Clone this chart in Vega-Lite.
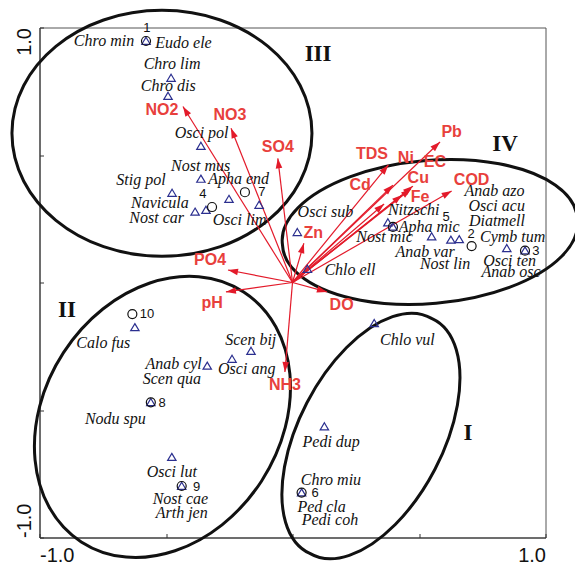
{
  "$schema": "https://vega.github.io/schema/vega-lite/v6.json",
  "width": 506,
  "height": 510,
  "autosize": {"type": "none"},
  "padding": {"left": 39.5, "top": 27.5, "right": 29.5, "bottom": 27.5},
  "background": "white",
  "config": {
    "view": {"stroke": "#555", "strokeWidth": 1},
    "axis": {"grid": false, "domainColor": "#333", "tickColor": "#333", "labelFont": "Liberation Sans", "labelFontSize": 20, "labelColor": "#111", "tickSize": -4, "labelOverlap": false, "labelBound": false}
  },
  "datasets": {
    "species": [
      {"x": -0.579, "y": 0.947}, {"x": -0.480, "y": 0.802}, {"x": -0.492, "y": 0.731}, {"x": -0.362, "y": 0.535},
      {"x": -0.362, "y": 0.406}, {"x": -0.476, "y": 0.351}, {"x": -0.385, "y": 0.277}, {"x": -0.342, "y": 0.284},
      {"x": -0.251, "y": 0.327}, {"x": -0.132, "y": 0.304}, {"x": 0.019, "y": 0.197}, {"x": 0.059, "y": 0.053},
      {"x": 0.377, "y": 0.235}, {"x": 0.397, "y": 0.218}, {"x": 0.550, "y": 0.180}, {"x": 0.626, "y": 0.167},
      {"x": 0.659, "y": 0.169}, {"x": 0.847, "y": 0.134}, {"x": 0.919, "y": 0.125}, {"x": -0.623, "y": -0.176},
      {"x": -0.164, "y": -0.269}, {"x": -0.239, "y": -0.300}, {"x": -0.337, "y": -0.327}, {"x": -0.560, "y": -0.470},
      {"x": -0.477, "y": -0.685}, {"x": -0.438, "y": -0.798}, {"x": 0.323, "y": -0.160}, {"x": 0.126, "y": -0.565},
      {"x": 0.036, "y": -0.824}
    ],
    "samples": [
      {"id": "1", "x": -0.579, "y": 0.947}, {"id": "2", "x": 0.708, "y": 0.143}, {"id": "3", "x": 0.919, "y": 0.125},
      {"id": "4", "x": -0.318, "y": 0.296}, {"id": "5", "x": 0.397, "y": 0.218}, {"id": "6", "x": 0.036, "y": -0.824},
      {"id": "7", "x": -0.188, "y": 0.354}, {"id": "8", "x": -0.560, "y": -0.470}, {"id": "9", "x": -0.438, "y": -0.798},
      {"id": "10", "x": -0.633, "y": -0.124}
    ],
    "sampleLabels": [
      {"t": "1", "x": -0.576, "y": 1.0}, {"t": "2", "x": 0.706, "y": 0.189}, {"t": "3", "x": 0.962, "y": 0.124},
      {"t": "4", "x": -0.354, "y": 0.347}, {"t": "5", "x": 0.607, "y": 0.258}, {"t": "6", "x": 0.089, "y": -0.827},
      {"t": "7", "x": -0.121, "y": 0.355}, {"t": "8", "x": -0.515, "y": -0.474}, {"t": "9", "x": -0.379, "y": -0.801},
      {"t": "10", "x": -0.575, "y": -0.124}
    ],
    "speciesLabels": [
      {"t": "Chro min", "x": -0.745, "y": 0.947}, {"t": "Eudo ele", "x": -0.431, "y": 0.939},
      {"t": "Chro lim", "x": -0.476, "y": 0.857}, {"t": "Chro dis", "x": -0.491, "y": 0.771},
      {"t": "Osci pol", "x": -0.359, "y": 0.585}, {"t": "Nost mus", "x": -0.363, "y": 0.458},
      {"t": "Apha end", "x": -0.213, "y": 0.406}, {"t": "Stig pol", "x": -0.599, "y": 0.402},
      {"t": "Navicula", "x": -0.524, "y": 0.313}, {"t": "Nost car", "x": -0.537, "y": 0.254},
      {"t": "Osci lim", "x": -0.209, "y": 0.245}, {"t": "Osci sub", "x": 0.130, "y": 0.275},
      {"t": "Chlo ell", "x": 0.227, "y": 0.049}, {"t": "Nitzschi", "x": 0.479, "y": 0.284},
      {"t": "Apha mic", "x": 0.540, "y": 0.219}, {"t": "Nost mic", "x": 0.364, "y": 0.180},
      {"t": "Anab var", "x": 0.524, "y": 0.118}, {"t": "Nost lin", "x": 0.603, "y": 0.073},
      {"t": "Anab azo", "x": 0.798, "y": 0.360}, {"t": "Osci acu", "x": 0.807, "y": 0.300},
      {"t": "Diatmell", "x": 0.808, "y": 0.242}, {"t": "Cymb tum", "x": 0.870, "y": 0.180},
      {"t": "Osci ten", "x": 0.858, "y": 0.085}, {"t": "Anab osc", "x": 0.864, "y": 0.042},
      {"t": "Calo fus", "x": -0.748, "y": -0.238}, {"t": "Scen bij", "x": -0.165, "y": -0.225},
      {"t": "Anab cyl", "x": -0.470, "y": -0.320}, {"t": "Osci ang", "x": -0.181, "y": -0.340},
      {"t": "Scen qua", "x": -0.477, "y": -0.378}, {"t": "Nodu spu", "x": -0.700, "y": -0.535},
      {"t": "Osci lut", "x": -0.477, "y": -0.742}, {"t": "Nost cae", "x": -0.443, "y": -0.850},
      {"t": "Arth jen", "x": -0.438, "y": -0.905}, {"t": "Chlo vul", "x": 0.454, "y": -0.225},
      {"t": "Pedi dup", "x": 0.153, "y": -0.627}, {"t": "Chro miu", "x": 0.152, "y": -0.775},
      {"t": "Ped cla", "x": 0.115, "y": -0.882}, {"t": "Pedi coh", "x": 0.148, "y": -0.931}
    ],
    "env": [
      {"v": "NO2", "x": -0.433, "y": 0.690, "lx": -0.516, "ly": 0.676},
      {"v": "NO3", "x": -0.243, "y": 0.605, "lx": -0.247, "ly": 0.657},
      {"v": "SO4", "x": -0.058, "y": 0.487, "lx": -0.058, "ly": 0.530},
      {"v": "TDS", "x": 0.379, "y": 0.461, "lx": 0.314, "ly": 0.504},
      {"v": "Cd", "x": 0.362, "y": 0.308, "lx": 0.267, "ly": 0.382},
      {"v": "Ni", "x": 0.397, "y": 0.382, "lx": 0.448, "ly": 0.490},
      {"v": "EC", "x": 0.476, "y": 0.378, "lx": 0.563, "ly": 0.472},
      {"v": "Cu", "x": 0.468, "y": 0.367, "lx": 0.497, "ly": 0.411},
      {"v": "Fe", "x": 0.433, "y": 0.343, "lx": 0.504, "ly": 0.336},
      {"v": "COD", "x": 0.629, "y": 0.359, "lx": 0.708, "ly": 0.402},
      {"v": "Pb", "x": 0.583, "y": 0.551, "lx": 0.629, "ly": 0.591},
      {"v": "Zn", "x": 0.045, "y": 0.154, "lx": 0.082, "ly": 0.193},
      {"v": "PO4", "x": -0.255, "y": 0.049, "lx": -0.326, "ly": 0.088},
      {"v": "pH", "x": -0.263, "y": -0.037, "lx": -0.318, "ly": -0.082},
      {"v": "DO", "x": 0.136, "y": -0.037, "lx": 0.194, "ly": -0.088},
      {"v": "NH3", "x": -0.030, "y": -0.351, "lx": -0.030, "ly": -0.402}
    ],
    "groups": [
      {"t": "I", "x": 0.694, "y": -0.590}, {"t": "II", "x": -0.891, "y": -0.108},
      {"t": "III", "x": 0.101, "y": 0.896}, {"t": "IV", "x": 0.840, "y": 0.543}
    ],
    "ellipses": [
      {"g": "I", "x": 0.310, "y": -0.602}, {"g": "II", "x": -0.514, "y": -0.527},
      {"g": "III", "x": -0.516, "y": 0.585}, {"g": "IV", "x": 0.543, "y": 0.198}
    ]
  },
  "encoding": {
    "x": {
      "field": "x", "type": "quantitative", "title": null,
      "scale": {"domain": [-1, 1], "nice": false, "zero": false},
      "axis": {
        "values": [-1, -0.5, 0, 0.5, 1],
        "labelExpr": "datum.value == 1 ? '1.0' : (datum.value == -1 ? '-1.0' : '')",
        "labelAlign": {"condition": {"test": "datum.value > 0", "value": "right"}, "value": "left"},
        "labelBaseline": "top",
        "labelPadding": 12
      }
    },
    "y": {
      "field": "y", "type": "quantitative", "title": null,
      "scale": {"domain": [-1, 1], "nice": false, "zero": false},
      "axis": {
        "values": [-1, -0.5, 0, 0.5, 1],
        "labelExpr": "datum.value == 1 ? '1.0' : (datum.value == -1 ? '-1.0' : '')",
        "labelAngle": -90,
        "labelAlign": {"condition": {"test": "datum.value > 0", "value": "right"}, "value": "left"},
        "labelBaseline": "bottom",
        "labelPadding": 9
      }
    }
  },
  "layer": [
    {
      "data": {"values": [{}]},
      "mark": {"type": "rule", "color": "#aaaaaa", "strokeWidth": 1, "strokeDash": [1, 2]},
      "encoding": {"x": {"datum": -1}, "x2": {"datum": 1}, "y": {"datum": 0}}
    },
    {
      "data": {"values": [{}]},
      "mark": {"type": "rule", "color": "#aaaaaa", "strokeWidth": 1, "strokeDash": [1, 2]},
      "encoding": {"x": {"datum": 0}, "y": {"datum": -1}, "y2": {"datum": 1}}
    },
    {
      "data": {"name": "ellipses"},
      "mark": {"type": "point", "filled": false, "size": 4, "color": "#111111", "strokeWidth": 3, "opacity": 1},
      "encoding": {
        "shape": {
          "field": "g", "type": "nominal", "legend": null,
          "scale": {
            "domain": ["I", "II", "III", "IV"],
            "range": [
              "M61.1,-117.4A70.2,132.4,27.5,1,0,-61.1,117.4A70.2,132.4,27.5,1,0,61.1,-117.4Z",
              "M81.2,-125A118,149,33,1,0,-81.2,125A118,149,33,1,0,81.2,-125Z",
              "M-150,0A150,123,0,1,0,150,0A150,123,0,1,0,-150,0Z",
              "M-147.4,12.9A148,70,-5,1,0,147.4,-12.9A148,70,-5,1,0,-147.4,12.9Z"
            ]
          }
        }
      }
    },
    {
      "data": {"name": "env"},
      "mark": {"type": "rule", "color": "#e31a2a", "strokeWidth": 1.2},
      "encoding": {"x2": {"datum": 0}, "y2": {"datum": 0}}
    },
    {
      "data": {"name": "env"},
      "mark": {"type": "point", "filled": true, "size": 4, "color": "#e31a2a", "opacity": 1, "strokeWidth": 0,
        "shape": "M0,0L3.3,10L-3.3,10Z",
        "angle": {"expr": "atan2(datum.x * 253, datum.y * 255) * 180 / PI"}}
    },
    {
      "data": {"name": "species"},
      "mark": {"type": "point", "filled": false, "size": 4, "color": "#2b2f8f", "strokeWidth": 1.2, "opacity": 1,
        "shape": "M0,-3.8L4.2,3.3L-4.2,3.3Z"}
    },
    {
      "data": {"name": "samples"},
      "mark": {"type": "point", "filled": false, "size": 81, "shape": "circle", "color": "#111111", "strokeWidth": 1.2, "opacity": 1}
    },
    {
      "data": {"name": "sampleLabels"},
      "mark": {"type": "text", "font": "Liberation Sans", "fontSize": 13, "color": "#111111", "align": "center", "baseline": "middle"},
      "encoding": {"text": {"field": "t"}}
    },
    {
      "data": {"name": "speciesLabels"},
      "mark": {"type": "text", "font": "Liberation Serif", "fontStyle": "italic", "fontSize": 16, "color": "#111111", "align": "center", "baseline": "middle"},
      "encoding": {"text": {"field": "t"}}
    },
    {
      "data": {"name": "env"},
      "mark": {"type": "text", "font": "Liberation Sans", "fontWeight": "bold", "fontSize": 16, "color": "#e8403c", "align": "center", "baseline": "middle"},
      "encoding": {
        "x": {"field": "lx", "type": "quantitative", "title": null},
        "y": {"field": "ly", "type": "quantitative", "title": null},
        "text": {"field": "v"}
      }
    },
    {
      "data": {"name": "groups"},
      "mark": {"type": "text", "font": "Liberation Serif", "fontWeight": "bold", "fontSize": 23, "color": "#111111", "align": "center", "baseline": "middle"},
      "encoding": {"text": {"field": "t"}}
    }
  ]
}
